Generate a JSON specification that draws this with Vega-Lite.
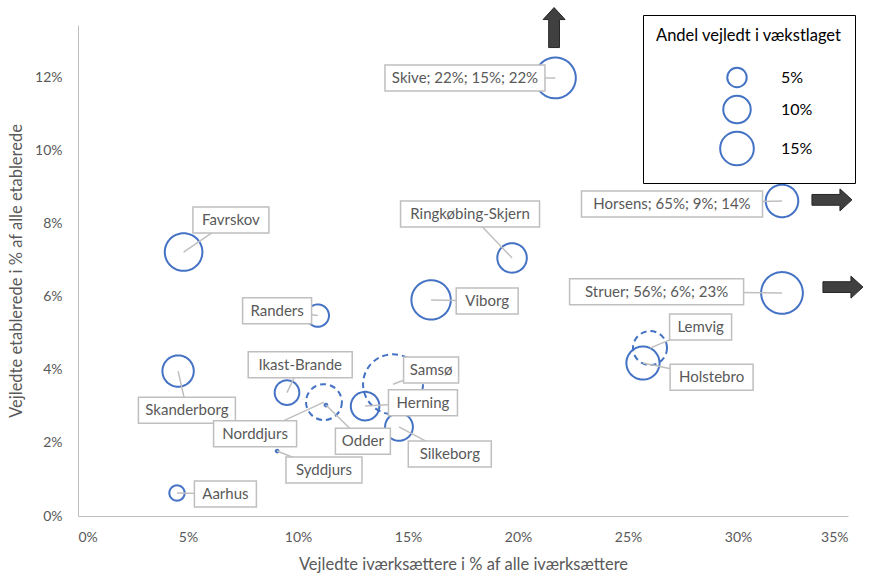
{
  "$schema": "https://vega.github.io/schema/vega-lite/v6.json",
  "width": 770,
  "height": 491,
  "autosize": {"type": "none"},
  "padding": {"left": 78, "top": 25, "right": 44, "bottom": 59},
  "background": "white",
  "config": {
    "view": {"stroke": null},
    "font": "Lato",
    "axis": {"grid": false, "ticks": false, "domainColor": "#bfbfbf", "domainWidth": 1, "labelColor": "#595959", "labelFont": "Lato", "labelFontSize": 14, "titleColor": "#595959", "titleFont": "Lato", "titleFontSize": 16.5, "titleFontWeight": "normal"},
    "axisX": {"labelPadding": 14, "titlePadding": 12},
    "axisY": {"labelPadding": 16, "titlePadding": 10}
  },
  "datasets": {
    "kommuner": [
      {"kommune": "Aarhus", "x": 0.045, "y": 0.0063, "andel": 0.031, "usikker": "nej", "label": "Aarhus", "lx": 0.067, "ly": 0.006},
      {"kommune": "Favrskov", "x": 0.048, "y": 0.0723, "andel": 0.187, "usikker": "nej", "label": "Favrskov", "lx": 0.0695, "ly": 0.0811},
      {"kommune": "Skanderborg", "x": 0.0455, "y": 0.0397, "andel": 0.13, "usikker": "nej", "label": "Skanderborg", "lx": 0.0495, "ly": 0.029},
      {"kommune": "Randers", "x": 0.109, "y": 0.0549, "andel": 0.066, "usikker": "nej", "label": "Randers", "lx": 0.0905, "ly": 0.0562},
      {"kommune": "Ikast-Brande", "x": 0.095, "y": 0.0338, "andel": 0.08, "usikker": "nej", "label": "Ikast-Brande", "lx": 0.101, "ly": 0.0414},
      {"kommune": "Samsø", "x": 0.1432, "y": 0.0361, "andel": 0.475, "usikker": "ja", "label": "Samsø", "lx": 0.1605, "ly": 0.04},
      {"kommune": "Norddjurs", "x": 0.1118, "y": 0.0312, "andel": 0.17, "usikker": "ja", "label": "Norddjurs", "lx": 0.0805, "ly": 0.0225},
      {"kommune": "Odder", "x": 0.1127, "y": 0.0304, "andel": 0.001, "usikker": "nej", "label": "Odder", "lx": 0.1295, "ly": 0.0205},
      {"kommune": "Syddjurs", "x": 0.0905, "y": 0.0178, "andel": 0.001, "usikker": "nej", "label": "Syddjurs", "lx": 0.1118, "ly": 0.0126},
      {"kommune": "Herning", "x": 0.1305, "y": 0.0301, "andel": 0.108, "usikker": "nej", "label": "Herning", "lx": 0.1568, "ly": 0.031},
      {"kommune": "Silkeborg", "x": 0.1459, "y": 0.0244, "andel": 0.102, "usikker": "nej", "label": "Silkeborg", "lx": 0.169, "ly": 0.017},
      {"kommune": "Viborg", "x": 0.1605, "y": 0.0592, "andel": 0.205, "usikker": "nej", "label": "Viborg", "lx": 0.186, "ly": 0.0589},
      {"kommune": "Ringkøbing-Skjern", "x": 0.1973, "y": 0.0707, "andel": 0.115, "usikker": "nej", "label": "Ringkøbing-Skjern", "lx": 0.1782, "ly": 0.0827},
      {"kommune": "Skive", "x": 0.217, "y": 0.12, "andel": 0.22, "usikker": "nej", "label": "Skive; 22%; 15%; 22%", "lx": 0.1759, "ly": 0.12},
      {"kommune": "Horsens", "x": 0.32, "y": 0.0863, "andel": 0.14, "usikker": "nej", "label": "Horsens; 65%;  9%;  14%", "lx": 0.27, "ly": 0.0855},
      {"kommune": "Struer", "x": 0.32, "y": 0.0611, "andel": 0.23, "usikker": "nej", "label": "Struer; 56%;  6%;  23%", "lx": 0.263, "ly": 0.0614},
      {"kommune": "Lemvig", "x": 0.26, "y": 0.046, "andel": 0.153, "usikker": "ja", "label": "Lemvig", "lx": 0.283, "ly": 0.0518},
      {"kommune": "Holstebro", "x": 0.2568, "y": 0.0419, "andel": 0.145, "usikker": "nej", "label": "Holstebro", "lx": 0.288, "ly": 0.038}
    ],
    "pile": [
      {"x": 0.2164, "y": 0.1338, "retning": "op"},
      {"x": 0.3427, "y": 0.0866, "retning": "højre"},
      {"x": 0.3477, "y": 0.0627, "retning": "højre"}
    ]
  },
  "layer": [
    {
      "data": {"name": "kommuner"},
      "mark": {"type": "point", "shape": "circle", "filled": false, "color": "#4472C4", "strokeWidth": 2, "opacity": 1},
      "encoding": {
        "x": {"field": "x", "type": "quantitative", "title": "Vejledte iværksættere i % af alle iværksættere", "scale": {"domain": [0, 0.35], "nice": false}, "axis": {"values": [0, 0.05, 0.1, 0.15, 0.2, 0.25, 0.3, 0.35], "format": ".0%"}},
        "y": {"field": "y", "type": "quantitative", "title": "Vejledte etablerede i % af alle etablerede", "scale": {"domain": [0, 0.1345], "nice": false}, "axis": {"values": [0, 0.02, 0.04, 0.06, 0.08, 0.1, 0.12], "format": ".0%"}},
        "size": {"field": "andel", "type": "quantitative", "scale": {"type": "linear", "domain": [0, 0.15], "range": [0, 1134], "zero": true},
          "legend": {"title": "Andel vejledt i vækstlaget", "values": [0.05, 0.1, 0.15], "format": ".0%", "orient": "none", "legendX": 565, "legendY": -10, "padding": 13, "strokeColor": "black", "fillColor": "white", "titleColor": "black", "titleFont": "Lato", "titleFontSize": 16.5, "titleFontWeight": "normal", "titleLimit": 400, "titlePadding": 22, "labelColor": "black", "labelFont": "Lato", "labelFontSize": 16, "symbolOffset": 63, "labelOffset": 26, "rowPadding": 0, "symbolType": "circle", "symbolStrokeColor": "#4472C4", "symbolStrokeWidth": 2, "symbolFillColor": "transparent"}},
        "strokeDash": {"field": "usikker", "type": "nominal", "scale": {"domain": ["nej", "ja"], "range": [[1, 0], [6, 4]]}, "legend": null}
      }
    },
    {
      "data": {"name": "kommuner"},
      "mark": {"type": "rule", "color": "#bfbfbf", "strokeWidth": 1.5},
      "encoding": {
        "x": {"field": "x", "type": "quantitative", "title": "Vejledte iværksættere i % af alle iværksættere", "scale": {"domain": [0, 0.35], "nice": false}, "axis": {"values": [0, 0.05, 0.1, 0.15, 0.2, 0.25, 0.3, 0.35], "format": ".0%"}},
        "y": {"field": "y", "type": "quantitative", "title": "Vejledte etablerede i % af alle etablerede", "scale": {"domain": [0, 0.1345], "nice": false}, "axis": {"values": [0, 0.02, 0.04, 0.06, 0.08, 0.1, 0.12], "format": ".0%"}},
        "x2": {"field": "lx"},
        "y2": {"field": "ly"}
      }
    },
    {
      "data": {"name": "kommuner"},
      "mark": {"type": "rect", "fill": "white", "stroke": "#bfbfbf", "strokeWidth": 1.5, "height": 26, "width": {"expr": "length(datum.label)*7+20"}},
      "encoding": {
        "x": {"field": "lx", "type": "quantitative", "title": "Vejledte iværksættere i % af alle iværksættere", "scale": {"domain": [0, 0.35], "nice": false}, "axis": {"values": [0, 0.05, 0.1, 0.15, 0.2, 0.25, 0.3, 0.35], "format": ".0%"}},
        "y": {"field": "ly", "type": "quantitative", "title": "Vejledte etablerede i % af alle etablerede", "scale": {"domain": [0, 0.1345], "nice": false}, "axis": {"values": [0, 0.02, 0.04, 0.06, 0.08, 0.1, 0.12], "format": ".0%"}}
      }
    },
    {
      "data": {"name": "kommuner"},
      "mark": {"type": "text", "font": "Lato", "fontSize": 15, "color": "#595959", "align": "center", "baseline": "middle"},
      "encoding": {
        "x": {"field": "lx", "type": "quantitative", "title": "Vejledte iværksættere i % af alle iværksættere", "scale": {"domain": [0, 0.35], "nice": false}, "axis": {"values": [0, 0.05, 0.1, 0.15, 0.2, 0.25, 0.3, 0.35], "format": ".0%"}},
        "y": {"field": "ly", "type": "quantitative", "title": "Vejledte etablerede i % af alle etablerede", "scale": {"domain": [0, 0.1345], "nice": false}, "axis": {"values": [0, 0.02, 0.04, 0.06, 0.08, 0.1, 0.12], "format": ".0%"}},
        "text": {"field": "label"}
      }
    },
    {
      "data": {"name": "pile"},
      "mark": {"type": "point", "filled": true, "color": "#404040", "stroke": "#262626", "strokeWidth": 1, "size": 1600, "opacity": 1},
      "encoding": {
        "x": {"field": "x", "type": "quantitative", "title": "Vejledte iværksættere i % af alle iværksættere", "scale": {"domain": [0, 0.35], "nice": false}, "axis": {"values": [0, 0.05, 0.1, 0.15, 0.2, 0.25, 0.3, 0.35], "format": ".0%"}},
        "y": {"field": "y", "type": "quantitative", "title": "Vejledte etablerede i % af alle etablerede", "scale": {"domain": [0, 0.1345], "nice": false}, "axis": {"values": [0, 0.02, 0.04, 0.06, 0.08, 0.1, 0.12], "format": ".0%"}},
        "shape": {"field": "retning", "type": "nominal", "scale": {"domain": ["op", "højre"], "range": ["M-0.27,1 L-0.27,-0.4 L-0.55,-0.4 L0,-1 L0.55,-0.4 L0.27,-0.4 L0.27,1 Z", "M-1,-0.27 L0.4,-0.27 L0.4,-0.55 L1,0 L0.4,0.55 L0.4,0.27 L-1,0.27 Z"]}, "legend": null}
      }
    }
  ]
}
